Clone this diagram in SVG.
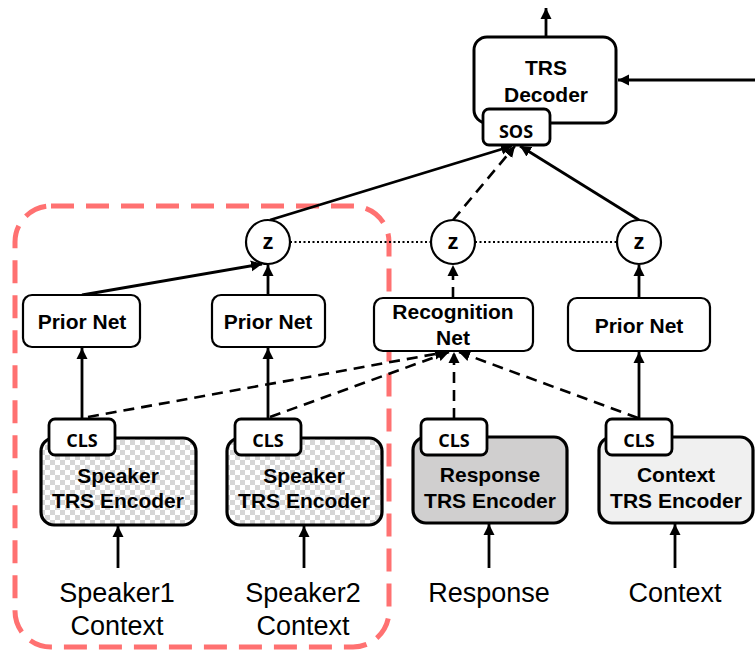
<svg xmlns="http://www.w3.org/2000/svg" width="755" height="651" viewBox="0 0 755 651">
  <style>
    .box { fill: #fff; stroke: #000; stroke-width: 2.2; }
    .enc { stroke: #000; stroke-width: 3.2; }
    .tag { fill: #fff; stroke: #000; stroke-width: 2.8; }
    .lbl { font-family: "Liberation Sans", Arial, sans-serif; font-weight: bold; font-size: 21px; text-anchor: middle; fill: #000; }
    .tok { font-family: "Open Sans", "Liberation Sans", sans-serif; font-weight: bold; font-size: 18px; text-anchor: middle; fill: #000; }
    .zt { font-family: "Liberation Sans", Arial, sans-serif; font-weight: bold; font-size: 22px; text-anchor: middle; fill: #000; }
    .inp { font-family: "Liberation Sans", Arial, sans-serif; font-size: 27px; text-anchor: middle; fill: #000; }
    .solid { stroke: #000; stroke-width: 2.8; fill: none; marker-end: url(#arr); }
    .dash { stroke: #000; stroke-width: 2.6; fill: none; stroke-dasharray: 11 7; marker-end: url(#arr); }
    .dot { stroke: #000; stroke-width: 2; fill: none; stroke-dasharray: 2 2.5; }
  </style>
  <defs>
    <marker id="arr" markerUnits="userSpaceOnUse" markerWidth="12" markerHeight="12" refX="11" refY="6" orient="auto">
      <path d="M0,0.5 L11,6 L0,11.5 z" fill="#000"/>
    </marker>
    <pattern id="checker" patternUnits="userSpaceOnUse" width="10" height="10">
      <rect width="10" height="10" fill="#fff"/>
      <rect width="5" height="5" fill="#d6d6d6"/>
      <rect x="5" y="5" width="5" height="5" fill="#d6d6d6"/>
    </pattern>
  </defs>

  <!-- speaker-side grouping -->
  <rect id="speaker-group" x="15" y="206" width="374" height="441" rx="36" fill="none" stroke="#ff7171" stroke-width="5" stroke-dasharray="23 12"/>

  <g id="connectors">
    <!-- decoder output and external input -->
    <line class="solid" x1="546" y1="37" x2="546" y2="8"/>
    <line class="solid" x1="755" y1="80" x2="618" y2="80"/>
    <!-- latent variables into SOS -->
    <line class="solid" x1="270" y1="220" x2="512" y2="146"/>
    <line class="dash" x1="453" y1="220" x2="515" y2="146"/>
    <line class="solid" x1="639" y1="220" x2="520" y2="146"/>
    <!-- links between latent variables -->
    <line class="dot" x1="290" y1="242" x2="431" y2="242"/>
    <line class="dot" x1="475" y1="242" x2="617" y2="242"/>
    <!-- nets into latent variables -->
    <line class="solid" x1="82" y1="295" x2="262" y2="264"/>
    <line class="solid" x1="268" y1="295" x2="268" y2="265"/>
    <line class="dash" x1="453" y1="298" x2="453" y2="265"/>
    <line class="solid" x1="639" y1="298" x2="639" y2="265"/>
    <!-- CLS into prior nets -->
    <line class="solid" x1="82" y1="419" x2="82" y2="348"/>
    <line class="solid" x1="268" y1="419" x2="268" y2="348"/>
    <line class="solid" x1="639" y1="419" x2="639" y2="352"/>
    <!-- CLS into recognition net -->
    <line class="dash" x1="454" y1="419" x2="454" y2="352"/>
    <line class="dash" x1="88" y1="417" x2="446" y2="352"/>
    <line class="dash" x1="270" y1="417" x2="449" y2="352"/>
    <line class="dash" x1="638" y1="418" x2="459" y2="352"/>
    <!-- inputs into encoders -->
    <line class="solid" x1="118" y1="568" x2="118" y2="526"/>
    <line class="solid" x1="304" y1="568" x2="304" y2="526"/>
    <line class="solid" x1="489" y1="568" x2="489" y2="524"/>
    <line class="solid" x1="675" y1="568" x2="675" y2="524"/>
  </g>

  <g id="decoder">
    <rect x="474" y="37" width="142" height="86" rx="13" fill="#fff" stroke="#000" stroke-width="3"/>
    <text class="lbl" x="546" y="75">TRS</text>
    <text class="lbl" x="546" y="102">Decoder</text>
    <rect class="tag" x="483" y="109" width="67" height="36" rx="6"/>
    <text class="tok" x="516" y="138">SOS</text>
  </g>

  <g id="z1"><circle class="box" cx="268" cy="242" r="22"/><text class="zt" x="268" y="249">z</text></g>
  <g id="z2"><circle class="box" cx="453" cy="242" r="22"/><text class="zt" x="453" y="249">z</text></g>
  <g id="z3"><circle class="box" cx="639" cy="242" r="22"/><text class="zt" x="639" y="249">z</text></g>

  <g id="prior-net-1"><rect class="box" x="23" y="295" width="117" height="52" rx="9"/><text class="lbl" x="82" y="329">Prior Net</text></g>
  <g id="prior-net-2"><rect class="box" x="212" y="295" width="113" height="52" rx="9"/><text class="lbl" x="268" y="329">Prior Net</text></g>
  <g id="recognition-net"><rect class="box" x="374" y="298" width="159" height="53" rx="9"/><text class="lbl" x="453" y="319">Recognition</text><text class="lbl" x="453" y="345">Net</text></g>
  <g id="prior-net-3"><rect class="box" x="568" y="298" width="142" height="53" rx="9"/><text class="lbl" x="639" y="333">Prior Net</text></g>

  <g id="speaker1-encoder">
    <rect class="enc" x="41" y="438" width="155" height="87" rx="13" fill="url(#checker)"/>
    <rect class="tag" x="49" y="419" width="66" height="36" rx="6"/>
    <text class="tok" x="82" y="447">CLS</text>
    <text class="lbl" x="118" y="483">Speaker</text>
    <text class="lbl" x="118" y="508">TRS Encoder</text>
  </g>
  <g id="speaker2-encoder">
    <rect class="enc" x="227" y="438" width="155" height="87" rx="13" fill="url(#checker)"/>
    <rect class="tag" x="235" y="419" width="66" height="36" rx="6"/>
    <text class="tok" x="268" y="447">CLS</text>
    <text class="lbl" x="304" y="483">Speaker</text>
    <text class="lbl" x="304" y="508">TRS Encoder</text>
  </g>
  <g id="response-encoder">
    <rect class="enc" x="413" y="437" width="154" height="86" rx="13" fill="#d0cfcf"/>
    <rect class="tag" x="421" y="419" width="66" height="36" rx="6"/>
    <text class="tok" x="454" y="447">CLS</text>
    <text class="lbl" x="490" y="482">Response</text>
    <text class="lbl" x="490" y="508">TRS Encoder</text>
  </g>
  <g id="context-encoder">
    <rect class="enc" x="599" y="437" width="154" height="86" rx="13" fill="#f0f0f0"/>
    <rect class="tag" x="606" y="419" width="66" height="36" rx="6"/>
    <text class="tok" x="639" y="447">CLS</text>
    <text class="lbl" x="676" y="482">Context</text>
    <text class="lbl" x="676" y="508">TRS Encoder</text>
  </g>

  <g id="input-speaker1"><text class="inp" x="117" y="602">Speaker1</text><text class="inp" x="117" y="635">Context</text></g>
  <g id="input-speaker2"><text class="inp" x="303" y="602">Speaker2</text><text class="inp" x="303" y="635">Context</text></g>
  <g id="input-response"><text class="inp" x="489" y="602">Response</text></g>
  <g id="input-context"><text class="inp" x="675" y="602">Context</text></g>
</svg>
